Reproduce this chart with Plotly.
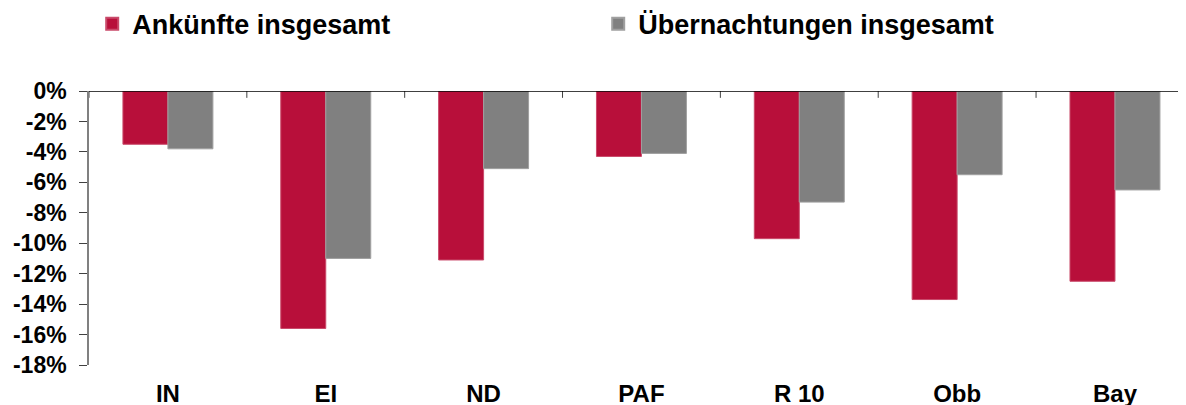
import plotly.graph_objects as go

categories = ["IN", "EI", "ND", "PAF", "R 10", "Obb", "Bay"]
ankuenfte = [-3.5, -15.6, -11.1, -4.3, -9.7, -13.7, -12.5]
uebernachtungen = [-3.8, -11.0, -5.1, -4.1, -7.3, -5.5, -6.5]
series_names = ["Ankünfte insgesamt", "Übernachtungen insgesamt"]
y_ticks = [0, -2, -4, -6, -8, -10, -12, -14, -16, -18]
y_ticklabels = [f"{v}%" for v in y_ticks]

RED = "#B80F3A"
GRAY = "#808080"
FONT = "Liberation Sans"

fig = go.Figure()
fig.add_trace(go.Bar(x=categories, y=ankuenfte, name=series_names[0],
                     marker=dict(color=RED, line=dict(color="#C94A6A", width=1))))
fig.add_trace(go.Bar(x=categories, y=uebernachtungen, name=series_names[1],
                     marker=dict(color=GRAY, line=dict(color="#A0A0A0", width=1))))

# boundary tick marks crossing the zero line
shapes = []
for i in range(len(categories)):
    shapes.append(dict(type="line", xref="x", yref="y", x0=i - 0.5, x1=i - 0.5,
                       y0=0.45, y1=-0.45, line=dict(color="#404040", width=1)))
shapes.append(dict(type="line", xref="x", yref="y", x0=-0.5, x1=6.5, y0=0, y1=0,
                   line=dict(color="black", width=1.3)))

fig.update_layout(
    width=1186, height=405,
    margin=dict(l=81, r=8, t=83, b=48),
    paper_bgcolor="white", plot_bgcolor="white",
    barmode="group", bargap=0.43, bargroupgap=0,
    font=dict(family=FONT, size=22, color="black", weight="bold"),
    showlegend=True,
    legend=dict(orientation="h", xref="container", yref="container",
                x=0.071, y=0.96, xanchor="left", yanchor="middle",
                font=dict(family=FONT, size=27, color="black", weight="bold"),
                entrywidth=461, entrywidthmode="pixels",
                itemwidth=30, itemsizing="constant", tracegroupgap=0),
    shapes=shapes,
    xaxis=dict(range=[-0.5, 6.45], showline=False, showgrid=False, zeroline=False,
               ticks="", ticklabelstandoff=12, tickfont=dict(size=24),
               automargin=False, fixedrange=True),
    yaxis=dict(range=[-18, 0], tickvals=y_ticks, ticktext=y_ticklabels,
               showline=True, linecolor=GRAY, linewidth=1.5,
               ticks="outside", ticklen=8, tickcolor="#404040", tickwidth=1,
               showgrid=False, zeroline=False, tickfont=dict(size=23),
               ticklabelstandoff=8, automargin=False),
)

fig.write_html("out.html")
